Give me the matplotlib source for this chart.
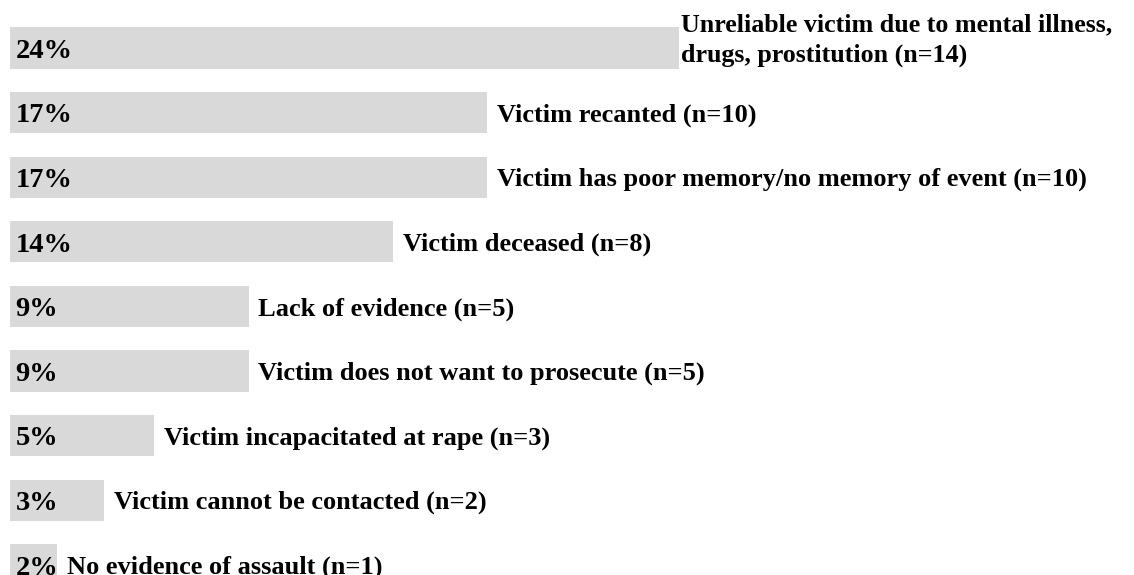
import matplotlib
matplotlib.use("Agg")
import matplotlib.pyplot as plt

# --- datos ---
categorias = [
    "Unreliable victim due to mental illness,\ndrugs, prostitution (n=14)",
    "Victim recanted (n=10)",
    "Victim has poor memory/no memory of event (n=10)",
    "Victim deceased (n=8)",
    "Lack of evidence (n=5)",
    "Victim does not want to prosecute (n=5)",
    "Victim incapacitated at rape (n=3)",
    "Victim cannot be contacted (n=2)",
    "No evidence of assault (n=1)",
]
porcentajes = [24.1, 17.2, 17.2, 13.8, 8.6, 8.6, 5.2, 3.4, 1.7]
etiquetas_pct = ["24%", "17%", "17%", "14%", "9%", "9%", "5%", "3%", "2%"]

plt.rcParams["font.family"] = ["Liberation Serif", "DejaVu Serif"]

fig = plt.figure(figsize=(11.34, 5.75), dpi=100)
ax = fig.add_axes([10 / 1134, 0, 1124 / 1134, 1])

y = list(range(len(categorias)))
ax.barh(y, porcentajes, height=0.64, color="#d9d9d9", edgecolor="none")

for yi, val, pct, cat in zip(y, porcentajes, etiquetas_pct, categorias):
    # porcentaje dentro de la barra
    ax.annotate(pct, (0, yi), xytext=(4, -7), textcoords="offset points",
                ha="left", va="baseline", fontsize=20.5, fontweight="bold")
    # etiqueta de la categoría a la derecha
    if "\n" in cat:
        ax.annotate(cat, (val, yi), xytext=(1.5, 5.5), textcoords="offset points",
                    ha="left", va="center", fontsize=18.7, fontweight="bold",
                    linespacing=1.4)
    else:
        ax.annotate(cat, (val, yi), xytext=(7, -6.3), textcoords="offset points",
                    ha="left", va="baseline", fontsize=19, fontweight="bold")

ax.set_xlim(0, 40.5)
ax.set_ylim(8.158, -0.743)
ax.axis("off")

fig.savefig("out.png", dpi=100)
plt.close(fig)
